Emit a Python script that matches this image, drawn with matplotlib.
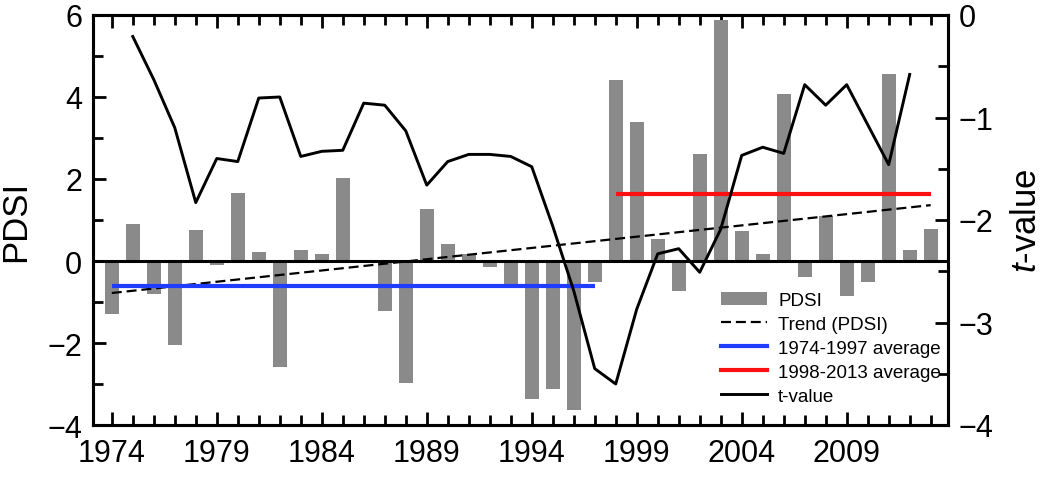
import numpy as np
import matplotlib
matplotlib.use("Agg")
import matplotlib.pyplot as plt
from matplotlib.patches import Patch
from matplotlib.lines import Line2D
from matplotlib.ticker import MultipleLocator, FixedLocator

plt.rcParams['font.family'] = ['Liberation Sans', 'DejaVu Sans']
plt.rcParams['mathtext.fontset'] = 'custom'
plt.rcParams['mathtext.it'] = 'Liberation Sans:italic'
plt.rcParams['mathtext.rm'] = 'Liberation Sans'

years = list(range(1974, 2014))
pdsi = [-1.30, 0.90, -0.80, -2.04, 0.76, -0.09, 1.66, 0.23, -2.59, 0.28,
        0.17, 2.02, 0.03, -1.21, -2.98, 1.27, 0.41, 0.17, -0.14, -0.56,
        -3.37, -3.11, -3.63, -0.52, 4.42, 3.40, 0.54, -0.72, 2.61, 5.89,
        0.74, 0.17, 4.07, -0.40, 1.10, -0.86, -0.50, 4.56, 0.28, 0.78]

t_years = list(range(1975, 2013))
t_value = [-0.21, -0.63, -1.10, -1.83, -1.40, -1.43, -0.81, -0.80, -1.38, -1.33,
           -1.32, -0.86, -0.88, -1.13, -1.66, -1.43, -1.36, -1.36, -1.38, -1.48,
           -2.06, -2.69, -3.45, -3.60, -2.87, -2.33, -2.28, -2.51, -2.09, -1.37,
           -1.29, -1.35, -0.68, -0.88, -0.68, -1.07, -1.46, -0.58]

period1 = (1974, 1997)
period2 = (1998, 2013)
xtick_years = [1974, 1979, 1984, 1989, 1994, 1999, 2004, 2009]
legend_labels = ['PDSI', 'Trend (PDSI)', '1974-1997 average', '1998-2013 average', 't-value']

yrs = np.array(years)
vals = np.array(pdsi)
m1 = vals[(yrs >= period1[0]) & (yrs <= period1[1])].mean()
m2 = vals[(yrs >= period2[0]) & (yrs <= period2[1])].mean()
coef = np.polyfit(yrs, vals, 1)
trend = np.polyval(coef, yrs)

W, H = 1050, 481
fig = plt.figure(figsize=(W / 100, H / 100), dpi=100)
L, R, T, B = 93.3, 947.7, 16, 426
ax = fig.add_axes([L / W, 1 - B / H, (R - L) / W, (B - T) / H])

bar_color = '#8a8a8a'
ax.bar(yrs, vals, width=0.67, color=bar_color, zorder=2)
ax.axhline(0, color='black', lw=2.2, zorder=3)
ax.plot(yrs, trend, color='black', lw=1.6, dashes=(4.5, 2.2), zorder=4)
ax.plot([period1[0], period1[1]], [m1, m1], color='#1f3cff', lw=3.0, zorder=4,
        solid_capstyle='butt')
ax.plot([period2[0], period2[1]], [m2, m2], color='#ff1010', lw=3.0, zorder=4,
        solid_capstyle='butt')

ax.set_xlim(1973.12, 2013.81)
ax.set_ylim(-4, 6)
ax.xaxis.set_major_locator(FixedLocator(xtick_years))
ax.xaxis.set_minor_locator(MultipleLocator(1))
ax.set_xticklabels([str(y) for y in xtick_years])
ax.yaxis.set_major_locator(MultipleLocator(2))
ax.yaxis.set_minor_locator(MultipleLocator(1))
ax.tick_params(which='both', direction='in', top=True, right=False, width=2.0,
               labelsize=22)
ax.tick_params(which='major', length=9.5, pad=8)
ax.tick_params(which='minor', length=7)
ax.tick_params(axis='x', pad=9)
ax.set_ylabel('PDSI', fontsize=25, labelpad=11)
for s in ax.spines.values():
    s.set_linewidth(2.2)

ax2 = ax.twinx()
ax2.plot(t_years, t_value, color='black', lw=2.1, zorder=5)
ax2.set_ylim(-4, 0)
ax2.yaxis.set_major_locator(MultipleLocator(1))
ax2.yaxis.set_minor_locator(MultipleLocator(0.5))
ax2.tick_params(which='both', direction='in', width=2.0, labelsize=22, pad=8)
ax2.tick_params(which='major', length=9.5)
ax2.tick_params(which='minor', length=7)
ax2.set_ylabel(r'$\mathit{t}$-value', fontsize=25, labelpad=12)
for s in ax2.spines.values():
    s.set_linewidth(2.2)

handles = [Patch(facecolor=bar_color, edgecolor='none'),
           Line2D([], [], color='black', lw=1.6, dashes=(4.5, 2.2)),
           Line2D([], [], color='#1f3cff', lw=3.0),
           Line2D([], [], color='#ff1010', lw=3.0),
           Line2D([], [], color='black', lw=2.1)]
leg = ax2.legend(handles, legend_labels, loc='upper left',
                 bbox_to_anchor=((721 - L) / (R - L), (B - 293) / (B - T)),
                 frameon=False, fontsize=13.5, borderpad=0, borderaxespad=0,
                 handlelength=2.45, handletextpad=0.6, labelspacing=0.36)

fig.savefig('out.png', dpi=100)
